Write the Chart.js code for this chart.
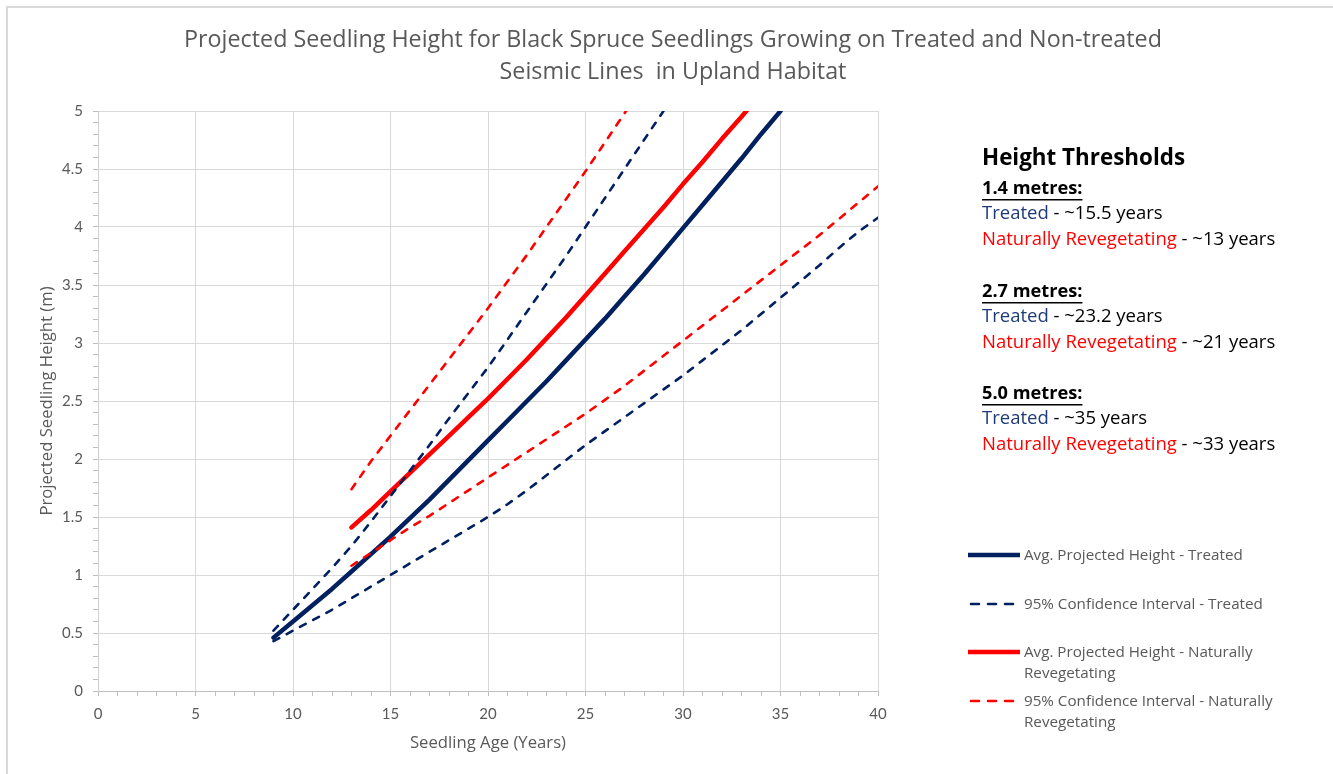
<!DOCTYPE html>
<html>
<head>
<meta charset="utf-8">
<title>Projected Seedling Height</title>
<script src="https://cdn.jsdelivr.net/npm/chart.js@4.4.1/dist/chart.umd.min.js"></script>
<style>
  html, body { margin: 0; padding: 0; background: #ffffff; }
  #wrap { position: relative; width: 1333px; height: 774px; overflow: hidden; }
  #wrap canvas { display: block; }
</style>
</head>
<body>
<div id="wrap"><canvas id="chart" width="1333" height="774"></canvas></div>
<script>
// ---- Axis ticks ----
const ageTickLabels = [0, 5, 10, 15, 20, 25, 30, 35, 40];
const heightTickLabels = [0, 0.5, 1, 1.5, 2, 2.5, 3, 3.5, 4, 4.5, 5];

// ---- Treated seismic lines ----
const treatedAges = [9, 10, 11, 12, 13, 14, 15, 16, 17, 18, 19, 20, 21, 22, 23, 24, 25, 26, 27, 28, 29, 30, 31, 32, 33, 34, 35];
const treatedAvg = [0.46, 0.60, 0.74, 0.88, 1.03, 1.18, 1.33, 1.49, 1.65, 1.82, 1.99, 2.16, 2.33, 2.50, 2.67, 2.85, 3.03, 3.21, 3.40, 3.59, 3.79, 3.99, 4.19, 4.39, 4.59, 4.80, 5.00];

const treatedUpperAges = [9, 10, 11, 12, 13, 14, 15, 16, 17, 18, 19, 20, 21, 22, 23, 24, 25, 26, 27, 28, 29];
const treatedUpper = [0.52, 0.70, 0.88, 1.06, 1.25, 1.46, 1.68, 1.90, 2.12, 2.35, 2.57, 2.79, 3.03, 3.27, 3.51, 3.75, 4.00, 4.25, 4.50, 4.75, 5.00];

const treatedLowerAges = [9, 10, 11, 12, 13, 14, 15, 16, 17, 18, 19, 20, 21, 22, 23, 24, 25, 26, 27, 28, 29, 30, 31, 32, 33, 34, 35, 36, 37, 38, 39, 40];
const treatedLower = [0.43, 0.52, 0.61, 0.70, 0.80, 0.90, 1.00, 1.10, 1.20, 1.30, 1.40, 1.50, 1.61, 1.73, 1.86, 1.99, 2.12, 2.24, 2.36, 2.48, 2.60, 2.72, 2.85, 2.98, 3.11, 3.25, 3.39, 3.53, 3.67, 3.82, 3.96, 4.08];

// ---- Naturally revegetating seismic lines ----
const naturalAges = [13, 14, 15, 16, 17, 18, 19, 20, 21, 22, 23, 24, 25, 26, 27, 28, 29, 30, 31, 32, 33, 34];
const naturalAvg = [1.41, 1.56, 1.72, 1.88, 2.04, 2.20, 2.36, 2.52, 2.69, 2.86, 3.04, 3.22, 3.41, 3.60, 3.79, 3.98, 4.17, 4.37, 4.56, 4.76, 4.95, 5.15];

const naturalUpperAges = [13, 14, 15, 16, 17, 18, 19, 20, 21, 22, 23, 24, 25, 26, 27, 28];
const naturalUpper = [1.74, 1.98, 2.20, 2.42, 2.64, 2.86, 3.08, 3.30, 3.53, 3.76, 4.00, 4.24, 4.48, 4.73, 4.98, 5.23];

const naturalLowerAges = [13, 14, 15, 16, 17, 18, 19, 20, 21, 22, 23, 24, 25, 26, 27, 28, 29, 30, 31, 32, 33, 34, 35, 36, 37, 38, 39, 40];
const naturalLower = [1.08, 1.19, 1.30, 1.41, 1.51, 1.62, 1.73, 1.84, 1.95, 2.06, 2.17, 2.28, 2.39, 2.51, 2.63, 2.76, 2.89, 3.02, 3.15, 3.28, 3.41, 3.54, 3.67, 3.80, 3.93, 4.07, 4.21, 4.35];

// ---- Height threshold notes ----
const thresholdHeadings = ['1.4 metres:', '2.7 metres:', '5.0 metres:'];
const treatedThresholdYears = ['~15.5 years', '~23.2 years', '~35 years'];
const naturalThresholdYears = ['~13 years', '~21 years', '~33 years'];

// ---- Legend entries ----
const legendTexts = [
  ['Avg. Projected Height - Treated'],
  ['95% Confidence Interval - Treated'],
  ['Avg. Projected Height - Naturally', 'Revegetating'],
  ['95% Confidence Interval - Naturally', 'Revegetating']
];

const NAVY = '#002060';
const RED = '#ff0000';
const GREY_TEXT = '#595959';
const FONT = '"Open Sans", Lato, sans-serif';
const TICK_FONT = 'Lato, "Open Sans", sans-serif';

function points(xs, ys) {
  return xs.map((x, i) => ({ x: x, y: ys[i] }));
}

function lineSet(label, xs, ys, color, dashed, legendIndex) {
  return {
    label: label,
    data: points(xs, ys),
    borderColor: color,
    backgroundColor: color,
    borderWidth: dashed ? 2.6 : 4.5,
    borderDash: dashed ? [6.5, 8.5] : [],
    borderCapStyle: 'round',
    borderJoinStyle: 'round',
    pointRadius: 0,
    tension: 0,
    fill: false,
    clip: 0,
    legendIndex: legendIndex
  };
}

const datasets = [
  lineSet('95% Confidence Interval - Naturally Revegetating (upper)', naturalUpperAges, naturalUpper, RED, true, 3),
  lineSet('95% Confidence Interval - Naturally Revegetating (lower)', naturalLowerAges, naturalLower, RED, true, -1),
  lineSet('95% Confidence Interval - Treated (upper)', treatedUpperAges, treatedUpper, NAVY, true, 1),
  lineSet('95% Confidence Interval - Treated (lower)', treatedLowerAges, treatedLower, NAVY, true, -1),
  lineSet('Avg. Projected Height - Naturally Revegetating', naturalAges, naturalAvg, RED, false, 2),
  lineSet('Avg. Projected Height - Treated', treatedAges, treatedAvg, NAVY, false, 0)
];

function isMajor(value, list) {
  return list.some(v => Math.abs(v - value) < 1e-6);
}

// Right-hand panel: threshold notes and the series key
const sidePanel = {
  id: 'sidePanel',
  afterDraw(chart) {
    const ctx = chart.ctx;
    ctx.save();
    ctx.textBaseline = 'middle';
    ctx.textAlign = 'left';

    // frame edges
    ctx.strokeStyle = '#d9d9d9';
    ctx.lineWidth = 2;
    ctx.beginPath();
    ctx.moveTo(7, 774);
    ctx.lineTo(7, 7);
    ctx.lineTo(1333, 7);
    ctx.stroke();

    const left = 982;
    ctx.fillStyle = '#000000';
    ctx.font = 'bold 22.4px ' + FONT;
    ctx.fillText('Height Thresholds', left, 159);

    const runs = (y, parts) => {
      let x = left;
      ctx.font = '18.5px ' + FONT;
      parts.forEach(p => {
        ctx.fillStyle = p[1];
        ctx.fillText(p[0], x, y);
        x += ctx.measureText(p[0]).width;
      });
    };

    const blockTops = [189, 292, 394];
    blockTops.forEach((y0, i) => {
      ctx.font = 'bold 18.2px ' + FONT;
      ctx.fillStyle = '#000000';
      const heading = thresholdHeadings[i];
      ctx.fillText(heading, left, y0);
      const w = ctx.measureText(heading).width;
      ctx.fillRect(left, y0 + 10, w, 1.5);
      runs(y0 + 25, [['Treated', '#1f3a78'], [' - ' + treatedThresholdYears[i], '#000000']]);
      runs(y0 + 51, [['Naturally Revegetating', RED], [' - ' + naturalThresholdYears[i], '#000000']]);
    });

    // series key
    const rows = [555, 604, 652, 701];
    const sets = chart.data.datasets;
    for (let k = 0; k < legendTexts.length; k++) {
      const ds = sets.find(d => d.legendIndex === k);
      if (!ds) continue;
      const y = rows[k];
      ctx.strokeStyle = ds.borderColor;
      ctx.lineWidth = ds.borderWidth;
      ctx.lineCap = ds.borderDash.length ? 'round' : 'butt';
      ctx.setLineDash(ds.borderDash.length ? [8, 9] : []);
      ctx.beginPath();
      ctx.moveTo(ds.borderDash.length ? 971 : 968, y);
      ctx.lineTo(1020, y);
      ctx.stroke();
      ctx.setLineDash([]);
      ctx.fillStyle = GREY_TEXT;
      ctx.font = '15.2px ' + FONT;
      legendTexts[k].forEach((t, j) => ctx.fillText(t, 1024, y + 1 + j * 21));
    }
    ctx.restore();
  }
};

Chart.defaults.font.family = FONT;
Chart.defaults.color = GREY_TEXT;

new Chart(document.getElementById('chart'), {
  type: 'line',
  data: { datasets: datasets },
  plugins: [sidePanel],
  options: {
    responsive: false,
    animation: false,
    events: [],
    layout: { padding: { left: 13, right: 0, top: 0, bottom: 0 } },
    plugins: {
      legend: { display: false },
      tooltip: { enabled: false },
      title: {
        display: true,
        text: [
          'Projected Seedling Height for Black Spruce Seedlings Growing on Treated and Non-treated',
          'Seismic Lines  in Upland Habitat'
        ],
        color: GREY_TEXT,
        font: { size: 23.3, weight: 'normal', lineHeight: 32 / 23.3 },
        padding: { top: 24, bottom: 23 }
      }
    },
    scales: {
      x: {
        type: 'linear',
        position: 'bottom',
        min: 0,
        max: 40,
        afterFit(scale) { scale.height = 83; },
        ticks: {
          stepSize: 1,
          autoSkip: false,
          maxRotation: 0,
          padding: 9,
          color: GREY_TEXT,
          font: { size: 15, family: TICK_FONT },
          callback: v => isMajor(v, ageTickLabels) ? String(v) : ''
        },
        grid: {
          color: c => (c.tick && isMajor(c.tick.value, ageTickLabels)) ? '#d9d9d9' : 'rgba(0,0,0,0)',
          tickColor: '#bfbfbf',
          tickLength: 5,
          lineWidth: 1
        },
        border: { color: '#bfbfbf', width: 1 },
        title: {
          display: true,
          text: 'Seedling Age (Years)',
          color: GREY_TEXT,
          font: { size: 16.7 },
          padding: { top: 4, bottom: 21 }
        }
      },
      y: {
        type: 'linear',
        position: 'left',
        min: 0,
        max: 5,
        afterFit(scale) { scale.width = 85; },
        ticks: {
          stepSize: 0.1,
          autoSkip: false,
          padding: 10,
          color: GREY_TEXT,
          font: { size: 15, family: TICK_FONT },
          callback: v => isMajor(v, heightTickLabels) ? String(Math.round(v * 10) / 10) : ''
        },
        grid: {
          color: c => (c.tick && isMajor(c.tick.value, heightTickLabels)) ? '#d9d9d9' : 'rgba(0,0,0,0)',
          tickColor: '#bfbfbf',
          tickLength: 5,
          lineWidth: 1
        },
        border: { color: '#d0d0d0', width: 1 },
        title: {
          display: true,
          text: 'Projected Seedling Height (m)',
          color: GREY_TEXT,
          font: { size: 16.7 },
          padding: { top: 24, bottom: 0 }
        }
      },
      panel: {
        type: 'linear',
        position: 'right',
        display: true,
        afterFit(scale) { scale.width = 455; },
        ticks: { display: false },
        grid: { display: false, drawOnChartArea: false },
        border: { display: false }
      }
    }
  }
});
</script>
</body>
</html>
